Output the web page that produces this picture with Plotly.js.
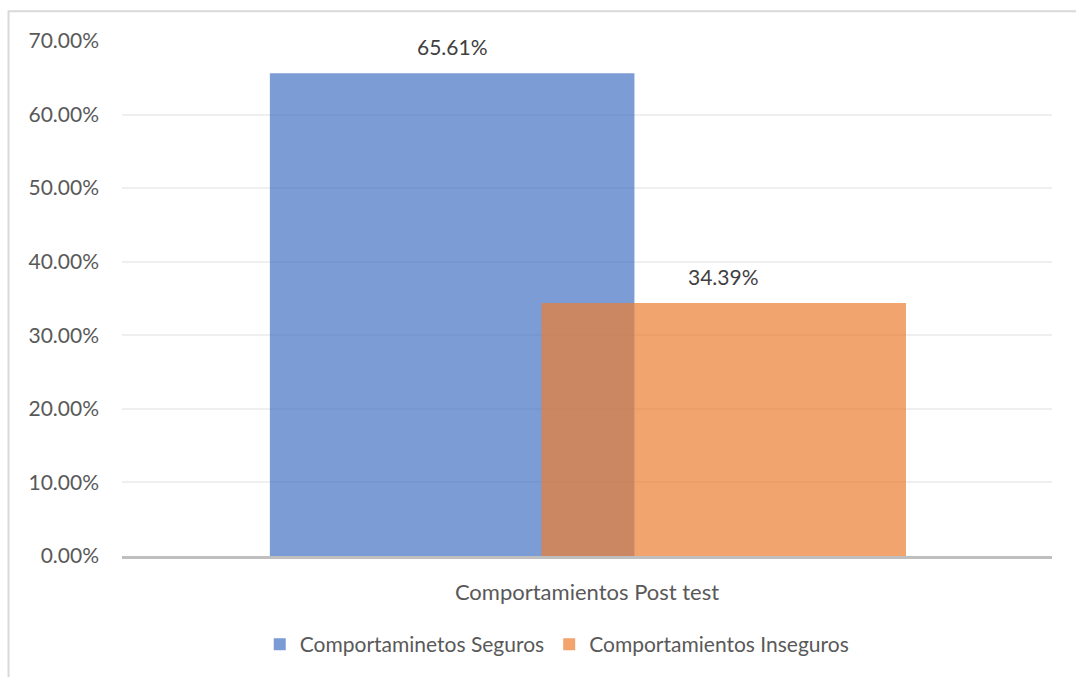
<!DOCTYPE html>
<html>
<head>
<meta charset="utf-8">
<script src="https://cdn.plot.ly/plotly-3.0.1.min.js"></script>
<style>html,body{margin:0;padding:0;background:#fff;overflow:hidden;}#chart{width:1076px;height:677px;}</style>
</head>
<body>
<div id="chart"></div>
<script>
const categories = ["Comportamientos Post test"];
const seriesNames = ["Comportaminetos Seguros", "Comportamientos Inseguros"];
const seguros = [0.6561];
const inseguros = [0.3439];
const seriesValues = [seguros, inseguros];
const seriesColors = ["#4472C4", "#ED7D31"];
const offsets = [-0.341, -0.049];
const barWidth = 0.392;

const FONT = "Lato, 'Open Sans', sans-serif";
const TXT = "#595959";

const traces = seriesValues.map((vals, i) => ({
  type: "bar",
  name: seriesNames[i],
  x: [offsets[i] + barWidth / 2],
  y: vals,
  width: barWidth,
  marker: {color: seriesColors[i], line: {width: 0}},
  opacity: 0.7,
  hoverinfo: "none"
}));

const annotations = seriesValues.map((vals, i) => ({
  x: offsets[i] + barWidth / 2,
  y: vals[0],
  xref: "x", yref: "y",
  text: (vals[0] * 100).toFixed(2) + "%",
  showarrow: false,
  yanchor: "bottom",
  yshift: 12,
  font: {family: FONT, size: 21, color: "#404040"}
}));

const layout = {
  width: 1076,
  height: 677,
  margin: {l: 122, r: 24, t: 41, b: 119},
  paper_bgcolor: "#ffffff",
  plot_bgcolor: "#ffffff",
  barmode: "overlay",
  showlegend: true,
  font: {family: FONT, color: TXT, size: 21},
  xaxis: {
    range: [-0.5, 0.5],
    tickvals: [0],
    ticktext: categories,
    showgrid: false,
    showline: true,
    linecolor: "#BFBFBF",
    linewidth: 3,
    ticks: "",
    ticklabelstandoff: 15,
    tickfont: {family: FONT, size: 22, color: TXT},
    zeroline: false,
    fixedrange: true
  },
  yaxis: {
    range: [0, 0.7],
    tickvals: [0, 0.1, 0.2, 0.3, 0.4, 0.5, 0.6, 0.7],
    tickformat: ".2%",
    showgrid: true,
    gridcolor: "#EFEFEF",
    gridwidth: 2,
    zeroline: false,
    showline: false,
    ticks: "",
    ticklabelstandoff: 22,
    tickfont: {family: FONT, size: 21, color: TXT},
    fixedrange: true
  },
  legend: {
    orientation: "h",
    x: 0.468,
    xanchor: "center",
    y: -0.172,
    yanchor: "middle",
    font: {family: FONT, size: 21, color: TXT},
    itemwidth: 30,
    traceorder: "normal"
  },
  annotations: annotations,
  shapes: [{
    type: "rect",
    xref: "paper", yref: "paper",
    x0: -0.122, x1: 1.3, y0: -0.6, y1: 1.058,
    line: {color: "#D9D9D9", width: 2},
    fillcolor: "rgba(0,0,0,0)",
    layer: "below"
  }]
};

Plotly.newPlot("chart", traces, layout, {displayModeBar: false, staticPlot: true});
</script>
</body>
</html>
